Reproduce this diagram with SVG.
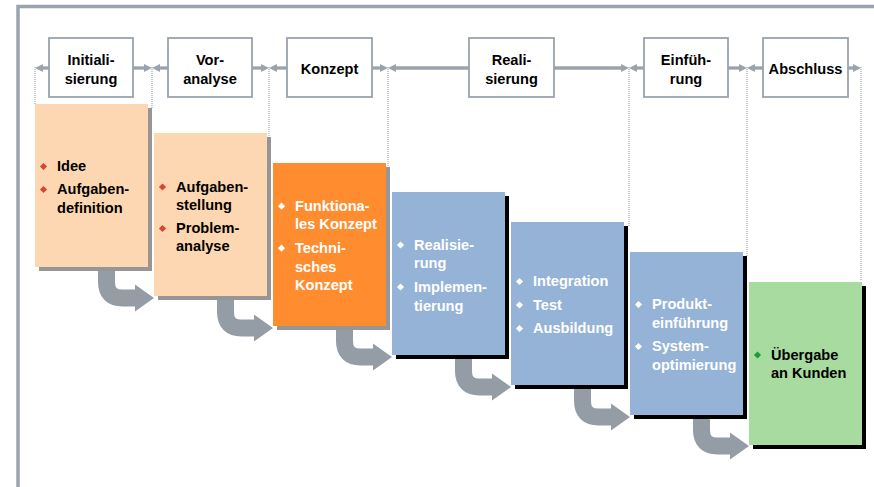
<svg xmlns="http://www.w3.org/2000/svg" width="874" height="487" viewBox="0 0 874 487">
<style>
  text { font-family: "Liberation Sans", Arial, Helvetica, sans-serif; font-weight: bold; font-size: 14.6px; }
  .hdr { fill: #ffffff; stroke: #9aa3ad; stroke-width: 1.8; }
  .htxt { fill: #000; text-anchor: middle; }
  .hline { stroke: #9aa3ad; stroke-width: 3.3; fill: none; marker-end: url(#ah); }
  .dot { stroke: #8f98a3; stroke-width: 1; stroke-dasharray: 1 1; fill: none; }
  .flow { stroke: #949ca6; stroke-width: 17; fill: none; }
  .flowhead { fill: #949ca6; }
  .sh-g { fill: #969696; }
  .sh-k { fill: #000000; }
  .peach { fill: #fdd7b2; }
  .orange { fill: #ff8c2f; }
  .blue { fill: #95b3d7; }
  .green { fill: #a8dba0; }
  .dark { fill: #000000; }
  .light { fill: #ffffff; }
  .b-red { fill: #d9452f; }
  .b-white { fill: #ffffff; }
  .b-green { fill: #1e9a3c; }
</style>
<defs>
  <marker id="ah" viewBox="0 0 8 8" refX="0" refY="4" markerWidth="8" markerHeight="8" markerUnits="userSpaceOnUse" orient="auto">
    <path d="M0,0 L8,4 L0,8 z" fill="#9aa3ad"/>
  </marker>
  <path id="dia" d="M0,-3.6 L3.6,0 L0,3.6 L-3.6,0 z"/>
</defs>

<!-- frame -->
<path d="M18 487 V6.5 H874" fill="none" stroke="#9ba4ae" stroke-width="3.5"/>

<g id="connectors">
  <!-- phase dividers -->
  <path class="dot" d="M35 67 V104"/>
  <path class="dot" d="M152 67 V108"/>
  <path class="dot" d="M269 67 V137"/>
  <path class="dot" d="M388 67 V167"/>
  <path class="dot" d="M629 67 V226"/>
  <path class="dot" d="M747 67 V256"/>
  <path class="dot" d="M861 67 V281"/>
  <!-- header arrows -->
  <path class="hline" d="M49 68 H43"/>
  <path class="hline" d="M133 68 H144"/>
  <path class="hline" d="M168 68 H160"/>
  <path class="hline" d="M252 68 H261"/>
  <path class="hline" d="M287 68 H277"/>
  <path class="hline" d="M372 68 H380"/>
  <path class="hline" d="M469 68 H396"/>
  <path class="hline" d="M554 68 H621"/>
  <path class="hline" d="M644 68 H637"/>
  <path class="hline" d="M728 68 H739"/>
  <path class="hline" d="M763 68 H755"/>
  <path class="hline" d="M848 68 H853"/>
  <!-- flow arrows -->
  <path class="flow" d="M106.5 267 V282 Q106.5 298 122.5 298 H136"/>
  <polygon class="flowhead" points="135,284.5 154,298 135,311.5"/>
  <path class="flow" d="M225.5 296 V312 Q225.5 328 241.5 328 H255"/>
  <polygon class="flowhead" points="254,314.5 273,328 254,341.5"/>
  <path class="flow" d="M344.5 326 V341 Q344.5 357 360.5 357 H374"/>
  <polygon class="flowhead" points="373,343.5 392,357 373,370.5"/>
  <path class="flow" d="M463.5 355 V371 Q463.5 387 479.5 387 H493"/>
  <polygon class="flowhead" points="492,373.5 511,387 492,400.5"/>
  <path class="flow" d="M582.5 385 V401 Q582.5 417 598.5 417 H612"/>
  <polygon class="flowhead" points="611,403.5 630,417 611,430.5"/>
  <path class="flow" d="M701.5 415 V430 Q701.5 446 717.5 446 H731"/>
  <polygon class="flowhead" points="730,432.5 749,446 730,459.5"/>
</g>

<!-- header phases -->
<g id="ph-initialisierung">
  <rect class="hdr" x="49" y="38" width="84" height="59"/>
  <text class="htxt"><tspan x="91" y="65">Initiali-</tspan><tspan x="91" y="83.5">sierung</tspan></text>
</g>
<g id="ph-voranalyse">
  <rect class="hdr" x="168" y="38" width="84" height="59"/>
  <text class="htxt"><tspan x="210" y="65">Vor-</tspan><tspan x="210" y="83.5">analyse</tspan></text>
</g>
<g id="ph-konzept">
  <rect class="hdr" x="287" y="38" width="85" height="59"/>
  <text class="htxt" x="329.5" y="74">Konzept</text>
</g>
<g id="ph-realisierung">
  <rect class="hdr" x="469" y="38" width="85" height="59"/>
  <text class="htxt"><tspan x="511.5" y="65">Reali-</tspan><tspan x="511.5" y="83.5">sierung</tspan></text>
</g>
<g id="ph-einfuehrung">
  <rect class="hdr" x="644" y="38" width="84" height="59"/>
  <text class="htxt"><tspan x="686" y="65">Einfüh-</tspan><tspan x="686" y="83.5">rung</tspan></text>
</g>
<g id="ph-abschluss">
  <rect class="hdr" x="763" y="38" width="85" height="59"/>
  <text class="htxt" x="805.5" y="74">Abschluss</text>
</g>

<!-- step boxes -->
<g id="step1">
  <rect class="sh-g" x="39" y="108" width="113" height="163"/>
  <rect class="peach" x="35" y="104" width="113" height="163"/>
  <use href="#dia" class="b-red" x="43.5" y="166.5"/>
  <use href="#dia" class="b-red" x="43.5" y="189.5"/>
  <text class="dark"><tspan x="57" y="171">Idee</tspan><tspan x="57" y="194">Aufgaben-</tspan><tspan x="57" y="212.5">definition</tspan></text>
</g>
<g id="step2">
  <rect class="sh-g" x="158" y="137" width="113" height="163"/>
  <rect class="peach" x="154" y="133" width="113" height="163"/>
  <use href="#dia" class="b-red" x="162.5" y="187"/>
  <use href="#dia" class="b-red" x="162.5" y="228.5"/>
  <text class="dark"><tspan x="176" y="191.5">Aufgaben-</tspan><tspan x="176" y="209.5">stellung</tspan><tspan x="176" y="233">Problem-</tspan><tspan x="176" y="251">analyse</tspan></text>
</g>
<g id="step3">
  <rect class="sh-g" x="277" y="167" width="113" height="163"/>
  <rect class="orange" x="273" y="163" width="113" height="163"/>
  <use href="#dia" class="b-white" x="281.5" y="206.2"/>
  <use href="#dia" class="b-white" x="281.5" y="248.2"/>
  <text class="light"><tspan x="295" y="210.7">Funktiona-</tspan><tspan x="295" y="229.3">les Konzept</tspan><tspan x="295" y="252.7">Techni-</tspan><tspan x="295" y="271.5">sches</tspan><tspan x="295" y="289.5">Konzept</tspan></text>
</g>
<g id="step4">
  <rect class="sh-k" x="396" y="196" width="113" height="163"/>
  <rect class="blue" x="392" y="192" width="113" height="163"/>
  <use href="#dia" class="b-white" x="400.5" y="245"/>
  <use href="#dia" class="b-white" x="400.5" y="287"/>
  <text class="light"><tspan x="414" y="249.5">Realisie-</tspan><tspan x="414" y="268">rung</tspan><tspan x="414" y="291.5">Implemen-</tspan><tspan x="414" y="310.5">tierung</tspan></text>
</g>
<g id="step5">
  <rect class="sh-k" x="515" y="226" width="113" height="163"/>
  <rect class="blue" x="511" y="222" width="113" height="163"/>
  <use href="#dia" class="b-white" x="519.5" y="281.5"/>
  <use href="#dia" class="b-white" x="519.5" y="305"/>
  <use href="#dia" class="b-white" x="519.5" y="328.5"/>
  <text class="light"><tspan x="533" y="286">Integration</tspan><tspan x="533" y="309.5">Test</tspan><tspan x="533" y="333">Ausbildung</tspan></text>
</g>
<g id="step6">
  <rect class="sh-k" x="634" y="256" width="113" height="163"/>
  <rect class="blue" x="630" y="252" width="113" height="163"/>
  <use href="#dia" class="b-white" x="638.5" y="304.5"/>
  <use href="#dia" class="b-white" x="638.5" y="346.5"/>
  <text class="light"><tspan x="652" y="309">Produkt-</tspan><tspan x="652" y="327.5">einführung</tspan><tspan x="652" y="351">System-</tspan><tspan x="652" y="369.5">optimierung</tspan></text>
</g>
<g id="step7">
  <rect class="sh-k" x="753" y="286" width="113" height="163"/>
  <rect class="green" x="749" y="282" width="113" height="163"/>
  <use href="#dia" class="b-green" x="757.5" y="355"/>
  <text class="dark"><tspan x="771" y="359.5">Übergabe</tspan><tspan x="771" y="377.5">an Kunden</tspan></text>
</g>
</svg>
